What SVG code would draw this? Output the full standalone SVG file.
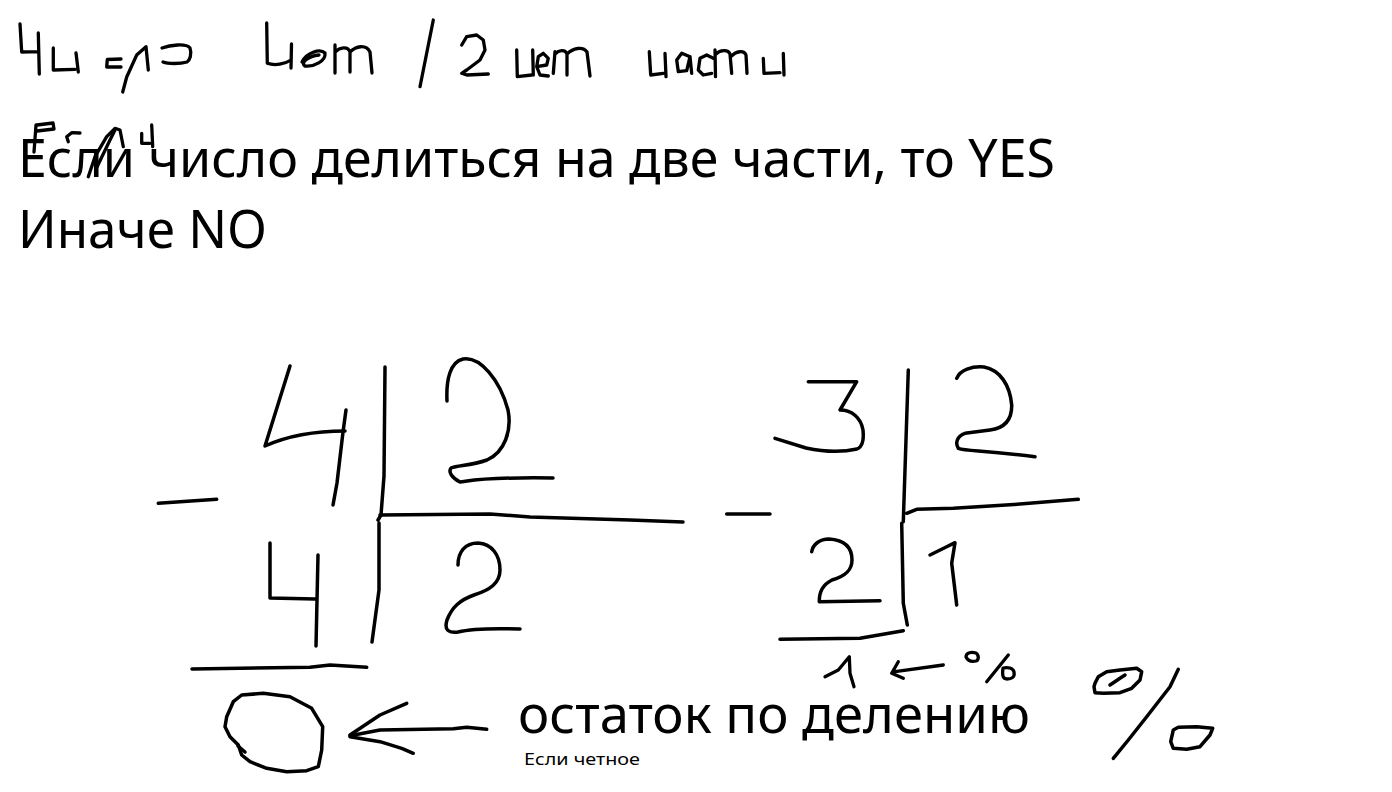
<svg xmlns="http://www.w3.org/2000/svg" width="1392" height="792" viewBox="0 0 1392 792">
<style>
.ink{fill:none;stroke:#000;stroke-width:3.5;stroke-linecap:round;stroke-linejoin:round}
.thin{fill:none;stroke:#000;stroke-width:3.3;stroke-linecap:round;stroke-linejoin:round}
.txt{font-family:"Noto Sans","Open Sans","Liberation Sans",sans-serif;fill:#000}
</style>
<rect width="1392" height="792" fill="#fff"/>
<g id="handwritten-title" class="thin">
<path d="M20,24 L21.7,52 L37.3,51.7 M38.3,33 L39.3,74"/>
<path d="M53.3,48 L53.3,70 L75,69.3 M76,53 L78.3,72"/>
<path d="M121,59 L107.3,59.5 L106.7,67 L121,67"/>
<path d="M122.7,92 L126.7,77 L136.7,55 L146,46.7 L148.3,70"/>
<path d="M162,48 C170,45 186,43 190,48 C192,54 190,60 187,62 C180,64 168,64 163,62"/>
<path d="M266.7,23 L267.3,63.3 C275,66 285,64 291,60 M291.5,44 L291,68"/>
<path d="M302,62 C306,53 320,48 325,53 C326,61 314,67 305,66 C300,63 308,56 319,55"/>
<path d="M335,45 L335,73 M335,52 C340,47 348,46 350,52 L350,72 M350,52 C356,46 366,44 370,52 L372,73"/>
<path d="M433.3,20 L420,86.7"/>
<path d="M461.7,45 L466.7,36.7 L476.7,35 L483.3,40 L485,50 L480,60 L466.7,70 L461.7,73.3 L466.7,75 L488.3,74"/>
<path d="M516.7,50 L517.3,76.7 L531.7,75 M532.7,50 L533.3,75"/>
<path d="M536.7,66.7 L546.7,65 L548.3,58.3 L543.3,53.3 L538.3,56.7 L536.7,66.7 L540,75 L548.3,76"/>
<path d="M553.3,73.3 L555,51.7 M555,54 C559,50 565,49 567,54 L567,75 M567,54 C573,48 583,46 587,52 L590,76"/>
<path d="M649.3,51.7 L650.7,75 L663.3,73.3 M665,53.3 L666,76.7"/>
<path d="M690,56.7 L681.7,53.3 L676.7,60 L678.3,71.7 L686.7,70.7 L690,56.7 L691.7,73.3"/>
<path d="M713.3,58.3 L706.7,55 L700,58.3 L698.3,70 L703.3,75 L711.7,73.3"/>
<path d="M715,50 L715.5,76.7 M716,54 C720,50 728,49 730,54 L731.7,73.3 M731.7,56 C736,51 744,50 746,55 L747,73.3"/>
<path d="M763.3,58.3 L764,73.3 L780,72.7 M783.3,53.3 L784,75"/>
</g>
<g id="handwritten-esli" class="thin">
<path d="M37,125 L53,123 L54,129 L37,131 M36,125 L34,152"/>
<path d="M80,133 L71.7,132.7 L66.7,136.7 L68.3,141.7"/>
<path d="M88.3,176.7 L95,156.7 L106.7,136.7 L115,128.3 L120,130 L123.3,146.7 M97,167 L110,140 L115,130"/>
<path d="M141.7,133.3 L141.7,143.3 L150,143.3 M151.7,125 L152.7,146.7"/>
</g>
<g id="text-main">
<text class="txt" x="18" y="177" font-size="52" textLength="1037" lengthAdjust="spacingAndGlyphs">Если число делиться на две части, то YES</text>
<text class="txt" x="18" y="248" font-size="52" textLength="249" lengthAdjust="spacingAndGlyphs">Иначе NO</text>
</g>
<g id="division-4" class="ink">
<path d="M158.3,503.3 L216.7,499.3"/>
<path d="M290,366 L265,446 C285,437 310,431 345,431"/>
<path d="M346,410 L343,432 L337,483 L333,505"/>
<path d="M385,367 L384,476 L381,515 L378,520 M379,523 L379,590 L372,642"/>
<path d="M380,515 L490,514 L530,517 L630,520 L683,522"/>
<path d="M447,401 C446,380 450,362 463,359 C480,356 500,380 508,410 C512,430 505,452 487,460 C470,466 458,465 451,468 C448,472 452,478 460,482 C470,481 480,477 553,478"/>
<path d="M270,543 L270,598 L315,599 M318,555 L316,646"/>
<path d="M458,565 C458,552 465,543 478,543 C492,544 500,555 500,570 C500,583 490,590 474,595 C460,600 452,607 447,620 C444,630 448,633 458,632 C470,629 490,628 520,629"/>
<path d="M192,669 L310,667.3 L330,665 L366.7,667.3"/>
</g>
<g id="division-3" class="ink">
<path d="M808.3,381.7 L856.7,381.7 L840,410 C852,410 861,418 863,430 C864,440 862,447 857,449 C840,453 820,451 806,448 L775,438.3"/>
<path d="M726.7,514 L770,514"/>
<path d="M908.3,370 L903.3,521.7 M901.7,523.3 L903.3,603.3 L907.3,625"/>
<path d="M906.7,513.3 L916.7,509.3 L953.3,508.3 L1020,504 L1078.3,499.3"/>
<path d="M956.7,378.3 C960,370 972,366 984,367 C1000,370 1010,385 1011.7,405 C1012,420 1005,428 990,430 L965,433.3 C957,436 955,443 958.3,448.3 C966,451 980,450 1035,456.7"/>
<path d="M811.7,551.7 C813,544 820,539 829,539 C845,540 852,548 852,560 C852,570 846,576 832,580 C822,585 819,592 819.3,601.7 L880,600.7"/>
<path d="M930,555 L946.7,546.7 L955,542.7 L951.7,563.3 L956.7,605"/>
<path d="M780,639.3 L860,638.3 L903.3,630.7"/>
</g>
<g id="remainder-1" class="thin">
<path d="M825,676.7 L838.3,670 L849.3,656.7 L850,673.3 L854,686.7"/>
<path d="M943.3,665 L895,671.7 M898.3,661.7 L891.7,673.3 L903.3,678.3"/>
<path d="M966,657 C966,652 972,652 976,653 C979,655 979,660 976,661 C972,662 968,661 966,657 Z"/>
<path d="M1008.3,655 L986.7,681.7"/>
<path d="M1003,668 C1008,667 1013,668 1014,672 C1015,677 1012,679 1007,679 C1003,679 1002,676 1003,668 Z"/>
</g>
<g id="zero-arrow" class="ink">
<path d="M241.7,695 L263.3,693.3 L290,696.7 L311.7,708.3 L322.7,726.7 L321.7,750 L318.3,766.7 L306.7,770.7 L286.7,771.7 L266.7,768.3 L250,761.7 L241.7,755 L238.3,745 L230,736.7 L225,726.7 L226.7,716.7 L233.3,701.7 Z"/>
<path d="M238,746 L245,752"/>
<path d="M486.7,729.3 L466.7,727.3 L453.3,728.7 L380,730 L350,735.7"/>
<path d="M406.7,703.3 L380,715 L350,735"/>
<path d="M350,736.7 L380,741.7 L401.7,748.3 L413.3,753.3"/>
</g>
<g id="text-bottom">
<text class="txt" x="518" y="733" font-size="52" textLength="512" lengthAdjust="spacingAndGlyphs">остаток по делению</text>
<text class="txt" x="524" y="765" font-size="17" textLength="116" lengthAdjust="spacingAndGlyphs">Если четное</text>
</g>
<g id="percent-big" class="ink">
<path d="M1095,683.3 L1098.3,676.7 L1106.7,671.7 L1120,670 L1136.7,668.3 L1141.7,671.7 L1140,680 L1131.7,688.3 L1120,692.7 L1103.3,693.3 L1095,692.7 L1094,686.7 Z"/>
<path d="M1110,685 L1120,678.3 L1125,675"/>
<path d="M1178.3,669.3 L1170,686.7 L1146.7,716.7 L1128.3,740 L1113.3,758.3"/>
<path d="M1173.3,730 L1178.3,727.3 L1196.7,726.7 L1212.7,728.3 L1210,735 L1200,746.7 L1186.7,749.3 L1173.3,748.3 L1170.7,741.7 Z"/>
</g>
</svg>
